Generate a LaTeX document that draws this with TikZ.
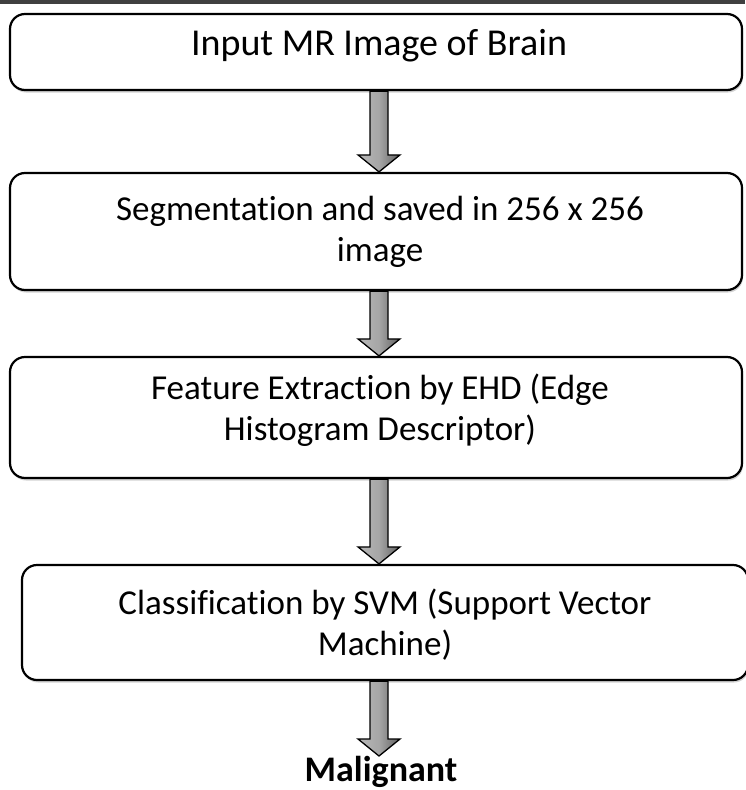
\documentclass[tikz,border=0pt]{standalone}
\usepackage{fontspec}
\setmainfont{Carlito}[Ligatures={NoCommon}]
\usetikzlibrary{calc,shadows}
\tikzset{
  stepbox/.style={draw=black, line width=2.2pt, rounded corners=15pt, fill=white,
    drop shadow={shadow xshift=1pt, shadow yshift=-2.5pt, opacity=0.35},
    inner sep=0pt},
  steptext/.style={font=\fontsize{35}{41}\selectfont, align=center, inner sep=0pt},
  fatarrowstyle/.style={draw=black, line width=1.3pt, line join=miter,
    left color=gray!55, right color=gray!75!black, middle color=gray!70},
}
\newcommand\fatarrow[2]{%
  \draw[fatarrowstyle] let \p1=(#1), \p2=(#2) in
    (370pt,\y1) -- (388pt,\y1) -- (388pt,\y2+17pt) -- (400pt,\y2+17pt)
    -- (379pt,\y2) -- (358pt,\y2+17pt) -- (370pt,\y2+17pt) -- cycle;}
\begin{document}
\begin{tikzpicture}[x=1pt,y=-1pt]
\useasboundingbox[fill=white] (0,0) rectangle (745,790);
\fill[black!75] (0,0) rectangle (745,4);
\node[stepbox, minimum width=732pt, minimum height=76pt] (b1) at (376,52) {};
\node[steptext, font=\fontsize{38}{41}\selectfont] (t1) at (379,46) {Input MR Image of Brain};
\node[stepbox, minimum width=732pt, minimum height=117pt] (b2) at (376,231.5) {};
\node[steptext] (t2) at (380,232) {Segmentation and saved in 256 x 256\\image};
\node[stepbox, minimum width=732pt, minimum height=121pt] (b3) at (376,417.5) {};
\node[steptext] (t3) at (380,410) {Feature Extraction by EHD (Edge\\Histogram Descriptor)};
\node[stepbox, minimum width=726pt, minimum height=115pt] (b4) at (385,622.5) {};
\node[steptext] (t4) at (385,625) {Classification by SVM (Support Vector\\Machine)};
\node[font=\fontsize{36}{40}\selectfont\bfseries, anchor=base] (m) at (381,781) {Malignant};
\coordinate (e4) at (381,756);
\fatarrow{b1.south}{b2.north}
\fatarrow{b2.south}{b3.north}
\fatarrow{b3.south}{b4.north}
\fatarrow{b4.south}{e4}
\end{tikzpicture}
\end{document}
